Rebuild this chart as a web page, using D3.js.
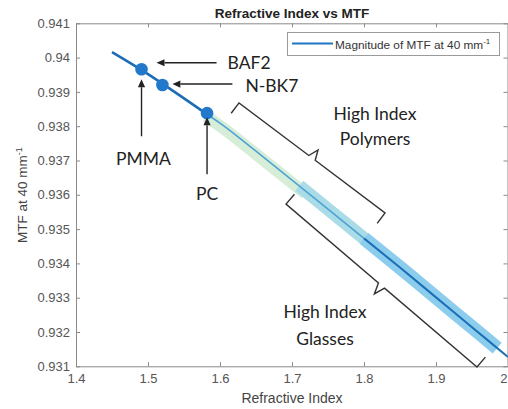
<!DOCTYPE html>
<html>
<head>
<meta charset="utf-8">
<script src="https://cdn.jsdelivr.net/npm/d3@7"></script>
<style>
  html, body { margin: 0; padding: 0; background: #fff; }
  svg { display: block; }
</style>
</head>
<body>
<svg id="chart" width="508" height="409"></svg>
<script>
// ---------------- data ----------------
const refractiveIndex = [1.45, 1.5, 1.55, 1.6, 1.65, 1.7, 1.75, 1.8, 1.85, 1.9, 1.95, 2.0];
const mtfValues       = [0.94016, 0.93952, 0.93881, 0.93809, 0.93727, 0.93643, 0.93558, 0.93473, 0.93388, 0.93301, 0.93214, 0.93127];

const materialNames = ["PMMA", "BAF2", "N-BK7", "PC"];
const materialIndex = [1.491, 1.491, 1.520, 1.582];
const materialMTF   = [0.93966, 0.93966, 0.93920, 0.93838];

const xTicks = [1.4, 1.5, 1.6, 1.7, 1.8, 1.9, 2.0];
const xTickLabels = ["1.4", "1.5", "1.6", "1.7", "1.8", "1.9", "2"];
const yTicks = [0.931, 0.932, 0.933, 0.934, 0.935, 0.936, 0.937, 0.938, 0.939, 0.94, 0.941];
const yTickLabels = ["0.931", "0.932", "0.933", "0.934", "0.935", "0.936", "0.937", "0.938", "0.939", "0.94", "0.941"];

// index ranges of the shaded bands
const polymerBand    = [1.582, 1.72];
const transitionBand = [1.71, 1.81];
const glassBand      = [1.80, 1.985];
// line segments
const lowSegment  = [1.45, 1.582];
const midSegment  = [1.582, 1.80];
const highSegment = [1.80, 2.0];

// bracket end corners (data coordinates)
const polymerBracket = [[1.6264, 0.93868], [1.8292, 0.93547]];
const glassBracket   = [[1.6917, 0.93573], [1.9569, 0.93098]];

// ---------------- layout ----------------
const svg = d3.select("#chart");
const L = 76, R = 508, T = 23.3, B = 366.3;
const x = d3.scaleLinear().domain([1.4, 2.0]).range([L, R]);
const y = d3.scaleLinear().domain([0.931, 0.941]).range([B, T]);

const interp = d3.scaleLinear().domain(refractiveIndex).range(mtfValues);
function segment(range) {
  const pts = [[range[0], interp(range[0])]];
  refractiveIndex.forEach((n, i) => { if (n > range[0] && n < range[1]) pts.push([n, mtfValues[i]]); });
  pts.push([range[1], interp(range[1])]);
  return pts;
}
const line = d3.line().x(d => x(d[0])).y(d => y(d[1])).curve(d3.curveMonotoneX);

const plot = svg.append("g");
plot.append("clipPath").attr("id", "clip").append("rect")
  .attr("x", L).attr("y", T).attr("width", R - L).attr("height", B - T);
const inner = plot.append("g").attr("clip-path", "url(#clip)");

// bands
inner.append("path").datum(segment(polymerBand)).attr("d", line)
  .attr("transform", "translate(-1,2)")
  .attr("fill", "none").attr("stroke", "#d6edd8").attr("stroke-width", 12);
inner.append("path").datum(segment(transitionBand)).attr("d", line)
  .attr("fill", "none").attr("stroke", "#a9dce6").attr("stroke-width", 13);
inner.append("path").datum(segment(glassBand)).attr("d", line)
  .attr("fill", "none").attr("stroke", "#8ccdee").attr("stroke-width", 14);

// main line
inner.append("path").datum(segment(lowSegment)).attr("d", line)
  .attr("fill", "none").attr("stroke", "#1c6db6").attr("stroke-width", 2.6);
inner.append("path").datum(segment(midSegment)).attr("d", line)
  .attr("fill", "none").attr("stroke", "#4ea3d6").attr("stroke-width", 1.6);
inner.append("path").datum(segment(highSegment)).attr("d", line)
  .attr("fill", "none").attr("stroke", "#1a6fb6").attr("stroke-width", 2);

// markers
const uniq = [0, 2, 3];
plot.selectAll("circle.mat").data(uniq).enter().append("circle")
  .attr("cx", i => x(materialIndex[i])).attr("cy", i => y(materialMTF[i]))
  .attr("r", 6.3).attr("fill", "#2279cc");

// ---------------- axes ----------------
const axisColor = "#8a8a8a", labelColor = "#555";
function styleAxis(g, showLabels) {
  g.select(".domain").attr("stroke", axisColor).attr("stroke-width", 1);
  g.selectAll(".tick line").attr("stroke", axisColor);
  g.selectAll(".tick text").attr("fill", labelColor)
    .style("font-family", "'Liberation Sans', Arial, sans-serif").style("font-size", "13px");
  if (!showLabels) g.selectAll(".tick text").remove();
}
const xb = svg.append("g").attr("transform", `translate(0,${B})`)
  .call(d3.axisBottom(x).tickValues(xTicks).tickFormat((d, i) => xTickLabels[i]).tickSizeInner(-4).tickSizeOuter(0).tickPadding(7));
styleAxis(xb, true);
xb.selectAll(".tick text").filter(d => d === 2.0).attr("text-anchor", "end").attr("dx", -1);
const xt = svg.append("g").attr("transform", `translate(0,${T})`)
  .call(d3.axisTop(x).tickValues(xTicks).tickSizeInner(-4).tickSizeOuter(0));
styleAxis(xt, false);
const yl = svg.append("g").attr("transform", `translate(${L},0)`)
  .call(d3.axisLeft(y).tickValues(yTicks).tickFormat((d, i) => yTickLabels[i]).tickSizeInner(-4).tickSizeOuter(0).tickPadding(6));
styleAxis(yl, true);
const yr = svg.append("g").attr("transform", `translate(${R - 0.5},0)`)
  .call(d3.axisRight(y).tickValues(yTicks).tickSizeInner(-4).tickSizeOuter(0));
styleAxis(yr, false);

// title & axis labels
svg.append("text").attr("x", (L + R) / 2).attr("y", 18).attr("text-anchor", "middle")
  .style("font-family", "'Liberation Sans', Arial, sans-serif").style("font-size", "13.5px")
  .style("font-weight", "bold").attr("fill", "#222").text("Refractive Index vs MTF");
svg.append("text").attr("x", (L + R) / 2).attr("y", 403).attr("text-anchor", "middle")
  .style("font-family", "'Liberation Sans', Arial, sans-serif").style("font-size", "14px")
  .attr("fill", "#444").text("Refractive Index");
const yTitle = svg.append("text").attr("transform", "translate(27,195) rotate(-90)").attr("text-anchor", "middle")
  .style("font-family", "'Liberation Sans', Arial, sans-serif").style("font-size", "13.5px").attr("fill", "#444");
yTitle.append("tspan").text("MTF at 40 mm");
yTitle.append("tspan").attr("dy", -5).style("font-size", "9px").text("-1");

// legend
const lg = svg.append("g");
lg.append("rect").attr("x", 287.5).attr("y", 32.5).attr("width", 212).attr("height", 23)
  .attr("fill", "#fff").attr("stroke", "#9a9a9a").attr("stroke-width", 1);
lg.append("line").attr("x1", 292).attr("x2", 333).attr("y1", 43.5).attr("y2", 43.5)
  .attr("stroke", "#1f77c4").attr("stroke-width", 2.2);
const lt = lg.append("text").attr("x", 335).attr("y", 48.5)
  .style("font-family", "'Liberation Sans', Arial, sans-serif").style("font-size", "11.8px").attr("fill", "#333");
lt.append("tspan").text("Magnitude of MTF at 40 mm");
lt.append("tspan").attr("dy", -5).style("font-size", "8px").text("-1");

// ---------------- annotations ----------------
const annFont = "Lato, 'Open Sans', sans-serif";
const ann = svg.append("g").attr("fill", "#222").style("font-family", annFont).style("font-size", "17.5px");
function arrow(x1, y1, x2, y2) {
  const a = Math.atan2(y2 - y1, x2 - x1), h = 8, w = 3.6;
  const bx = x2 - h * Math.cos(a), by = y2 - h * Math.sin(a);
  ann.append("line").attr("x1", x1).attr("y1", y1).attr("x2", bx).attr("y2", by)
    .attr("stroke", "#222").attr("stroke-width", 1.4);
  ann.append("path").attr("d", `M${x2},${y2}L${bx - w * Math.sin(a)},${by + w * Math.cos(a)}L${bx + w * Math.sin(a)},${by - w * Math.cos(a)}Z`)
    .attr("fill", "#222");
}
const pB = [x(materialIndex[1]), y(materialMTF[1])];
const pN = [x(materialIndex[2]), y(materialMTF[2])];
const pP = [x(materialIndex[0]), y(materialMTF[0])];
const pC = [x(materialIndex[3]), y(materialMTF[3])];
arrow(pB[0] + 75, pB[1] - 6.5, pB[0] + 15, pB[1] - 6.5);
ann.append("text").attr("x", pB[0] + 86).attr("y", pB[1]).text("BAF2");
arrow(pN[0] + 70, pN[1] - 1, pN[0] + 10, pN[1] - 1);
ann.append("text").attr("x", pN[0] + 83).attr("y", pN[1] + 7).text("N-BK7");
arrow(pP[0], pP[1] + 67, pP[0], pP[1] + 10);
ann.append("text").attr("x", pP[0] + 2).attr("y", pP[1] + 96).attr("text-anchor", "middle").text("PMMA");
arrow(pC[0], pC[1] + 61, pC[0], pC[1] + 4);
ann.append("text").attr("x", pC[0]).attr("y", pC[1] + 87).attr("text-anchor", "middle").text("PC");

function brace(ends, towardCurveSign, tick, cusp) {
  const A = [x(ends[0][0]), y(ends[0][1])], Bp = [x(ends[1][0]), y(ends[1][1])];
  const dx = Bp[0] - A[0], dy = Bp[1] - A[1], len = Math.hypot(dx, dy);
  const u = [dx / len, dy / len];
  const n = [towardCurveSign * u[1], -towardCurveSign * u[0]];
  const M = [(A[0] + Bp[0]) / 2, (A[1] + Bp[1]) / 2];
  const pts = [
    [A[0] + n[0] * tick, A[1] + n[1] * tick], A,
    [M[0] - u[0] * 4, M[1] - u[1] * 4],
    [M[0] - n[0] * cusp, M[1] - n[1] * cusp],
    [M[0] + u[0] * 4, M[1] + u[1] * 4],
    Bp, [Bp[0] + n[0] * tick, Bp[1] + n[1] * tick]
  ];
  ann.append("path").attr("d", d3.line()(pts)).attr("fill", "none")
    .attr("stroke", "#333").attr("stroke-width", 1.4).attr("stroke-linejoin", "miter");
}
brace(polymerBracket, -1, 13, 10);
brace(glassBracket, 1, 13, 11);

ann.append("text").attr("x", 375).attr("y", 120).attr("text-anchor", "middle").text("High Index");
ann.append("text").attr("x", 375).attr("y", 145).attr("text-anchor", "middle").text("Polymers");
ann.append("text").attr("x", 325).attr("y", 318).attr("text-anchor", "middle").text("High Index");
ann.append("text").attr("x", 325).attr("y", 345).attr("text-anchor", "middle").text("Glasses");
</script>
</body>
</html>
